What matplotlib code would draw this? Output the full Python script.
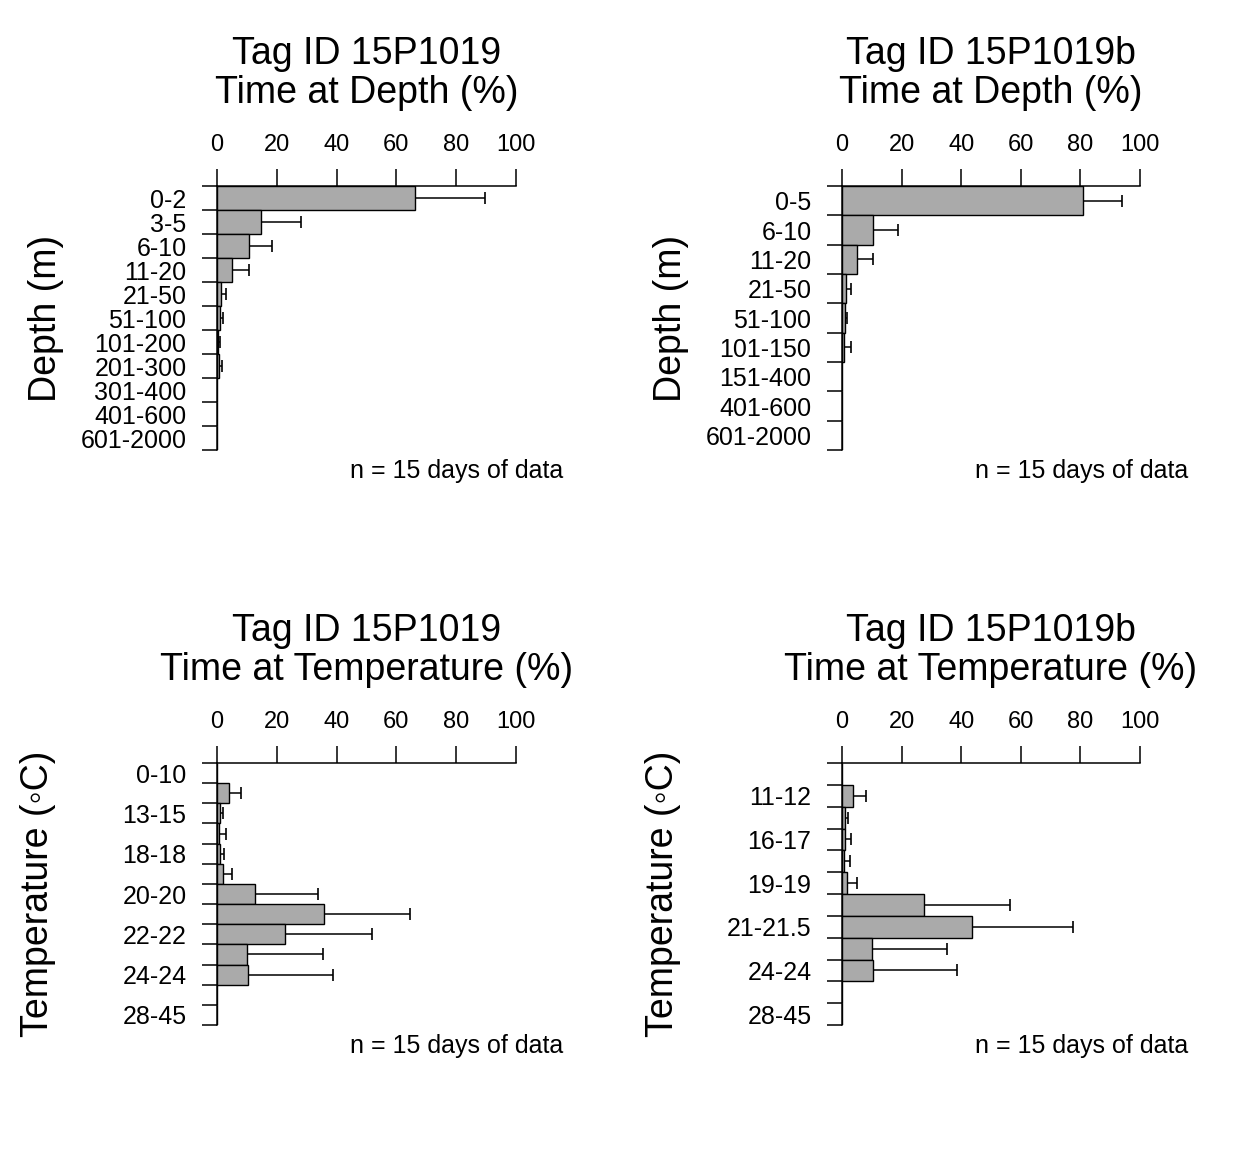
import matplotlib
matplotlib.use("Agg")
import matplotlib.pyplot as plt
import numpy as np

plt.rcParams['font.family'] = ['Liberation Sans', 'DejaVu Sans']

# depth bins (m), tag 15P1019
depth_a_bins = ['0-2', '3-5', '6-10', '11-20', '21-50', '51-100', '101-200',
                '201-300', '301-400', '401-600', '601-2000']
depth_a_pct = [66.1, 14.7, 10.6, 5.1, 1.5, 1.1, 0.4, 0.6, 0.1, 0, 0]
depth_a_upper = [89.7, 28.1, 18.5, 10.8, 2.9, 2.0, 1.1, 1.8, 0, 0, 0]

# depth bins (m), tag 15P1019b
depth_b_bins = ['0-5', '6-10', '11-20', '21-50', '51-100', '101-150',
                '151-400', '401-600', '601-2000']
depth_b_pct = [80.8, 10.4, 4.9, 1.2, 0.9, 0.8, 0, 0, 0]
depth_b_upper = [94.0, 18.7, 10.5, 3.0, 1.6, 3.0, 0, 0, 0]

# temperature bins (C), only every other label is printed in the original
temp_a_bins = ['0-10', '', '13-15', '', '18-18', '', '20-20', '', '22-22', '',
               '24-24', '', '28-45']
temp_a_pct = [0, 4.0, 1.1, 0.7, 0.9, 1.9, 12.7, 35.7, 22.7, 9.9, 10.5, 0, 0]
temp_a_upper = [0, 8.1, 2.1, 3.1, 2.5, 5.0, 33.7, 64.6, 51.9, 35.4, 38.8, 0, 0]

temp_b_bins = ['', '11-12', '', '16-17', '', '19-19', '', '21-21.5', '',
               '24-24', '', '28-45']
temp_b_pct = [0, 3.8, 0.9, 0.9, 0.7, 1.7, 27.4, 43.7, 9.9, 10.4, 0, 0]
temp_b_upper = [0, 8.0, 2.1, 3.1, 2.6, 5.0, 56.5, 77.4, 35.3, 38.6, 0, 0]

x_ticks = [0, 20, 40, 60, 80, 100]

W, H = 1248, 1152
fig = plt.figure(figsize=(W / 100, H / 100), dpi=100)
fig.patch.set_facecolor('white')


def px_axes(x0, y0, x1, y1):
    """axes from pixel box (top-left origin)"""
    return fig.add_axes([x0 / W, 1 - y1 / H, (x1 - x0) / W, (y1 - y0) / H])


def draw_panel(box, bins, pct, upper, tag, what, ylab, ylab_x):
    x0, y0, x1, y1 = box
    ax = px_axes(x0, y0, x1, y1)
    n = len(bins)
    ypos = np.arange(n) + 0.5

    ax.barh(ypos, pct, height=1.0, color='#aaaaaa', edgecolor='black',
            linewidth=1.0, zorder=2)
    for y, v, u in zip(ypos, pct, upper):
        if u > v:
            ax.plot([v, u], [y, y], color='black', lw=1.1, zorder=3,
                    solid_capstyle='butt')
            ax.plot([u], [y], marker='|', color='black', ms=8, mew=1.2,
                    zorder=3)

    ax.set_xlim(0, 100)
    ax.set_ylim(n, 0)

    for s in ['right', 'bottom']:
        ax.spines[s].set_visible(False)
    ax.spines['top'].set_linewidth(1.1)
    ax.spines['left'].set_linewidth(1.1)

    ax.xaxis.tick_top()
    ax.set_xticks(x_ticks)
    ax.set_xticklabels([str(t) for t in x_ticks])
    ax.tick_params(axis='x', direction='out', length=12, width=1.1,
                   pad=9.5, labelsize=17)

    ax.set_yticks(np.arange(n + 1))
    ax.set_yticklabels([])
    ax.set_yticks(ypos, minor=True)
    ax.set_yticklabels(bins, minor=True)
    ax.tick_params(axis='y', which='major', direction='out', length=11,
                   width=1.1)
    ax.tick_params(axis='y', which='minor', length=0, pad=22,
                   labelsize=18)
    ax.set_facecolor('none')

    cx = (x0 + x1) / 2
    fig.text(cx / W, 1 - (y0 - 132) / H, f'Tag ID {tag}', ha='center',
             va='center', fontsize=27)
    fig.text(cx / W, 1 - (y0 - 93) / H, f'Time at {what} (%)', ha='center',
             va='center', fontsize=27)
    fig.text(ylab_x / W, 1 - ((y0 + y1) / 2) / H, ylab, rotation=90,
             ha='center', va='center', fontsize=27)
    fig.text((x0 + 240) / W, 1 - (y1 + 21) / H, 'n = 15 days of data',
             ha='center', va='center', fontsize=18)
    return ax


temp_label = 'Temperature (\u25e6C)'
draw_panel((217, 186, 516, 450), depth_a_bins, depth_a_pct, depth_a_upper,
           '15P1019', 'Depth', 'Depth (m)', 46)
draw_panel((842, 186, 1140, 450), depth_b_bins, depth_b_pct, depth_b_upper,
           '15P1019b', 'Depth', 'Depth (m)', 671)
draw_panel((217, 763, 516, 1025), temp_a_bins, temp_a_pct, temp_a_upper,
           '15P1019', 'Temperature', temp_label, 38)
draw_panel((842, 763, 1140, 1025), temp_b_bins, temp_b_pct, temp_b_upper,
           '15P1019b', 'Temperature', temp_label, 663)

fig.savefig('out.png', dpi=100, facecolor='white')
